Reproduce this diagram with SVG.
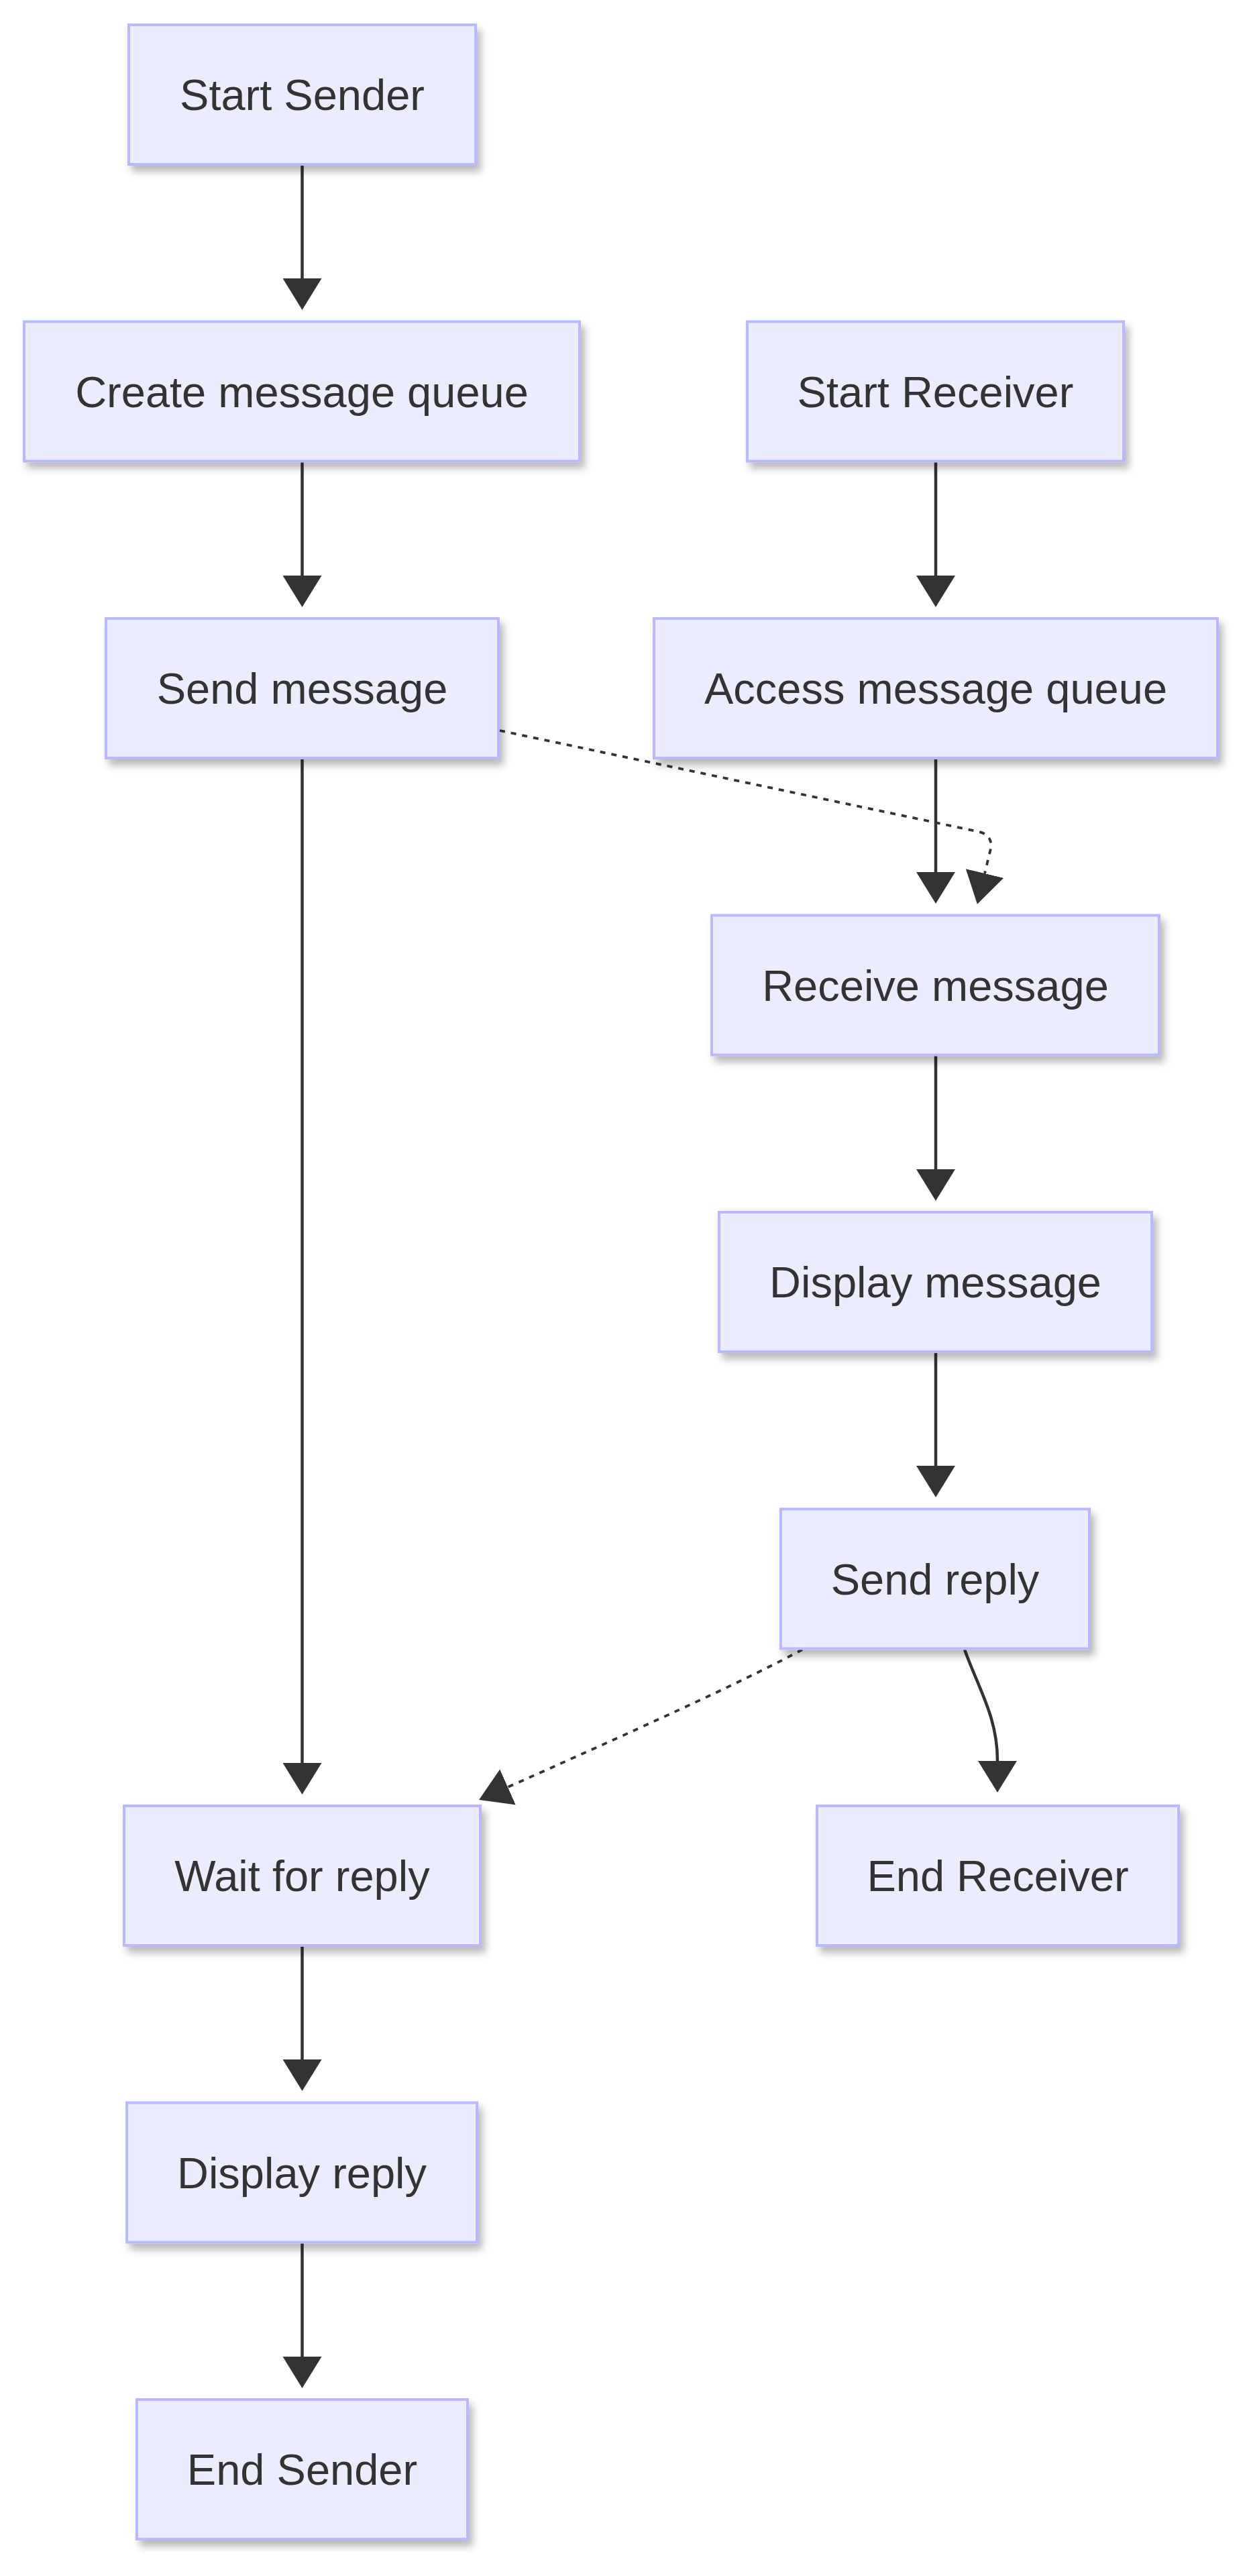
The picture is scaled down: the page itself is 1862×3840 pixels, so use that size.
<svg xmlns="http://www.w3.org/2000/svg" width="1862" height="3840" viewBox="0 0 1862 3840">
<style>
.node rect{fill:#ECECFF;stroke:#B9B9FF;stroke-width:4;filter:url(#shadow)}
.node text{font-family:"Liberation Sans",Arial,Helvetica,sans-serif;font-size:65px;fill:#333333;text-anchor:middle}
.edge{fill:none;stroke:#333333;stroke-width:4.5}
.dotted{stroke-width:3.8;stroke-dasharray:8 9}
</style>
<defs>
<filter id="shadow" x="-10%" y="-10%" width="130%" height="140%">
<feDropShadow dx="6" dy="9" stdDeviation="6" flood-color="#000000" flood-opacity="0.28"/>
</filter>
<marker id="arrow" markerUnits="userSpaceOnUse" markerWidth="48" markerHeight="58" viewBox="0 0 48 58" refX="0" refY="29" orient="auto">
<path d="M0,0 L47,29 L0,58 z" fill="#333333"/>
</marker>
</defs>
<rect width="1862" height="3840" fill="#FFFFFF"/>
<g id="connectors">
<path class="edge" d="M450.5,247 L450.5,415" marker-end="url(#arrow)"/>
<path class="edge" d="M450.5,689 L450.5,858" marker-end="url(#arrow)"/>
<path class="edge" d="M450.5,1132 L450.5,2628" marker-end="url(#arrow)"/>
<path class="edge" d="M450.5,2902 L450.5,3070" marker-end="url(#arrow)"/>
<path class="edge" d="M450.5,3344 L450.5,3513" marker-end="url(#arrow)"/>
<path class="edge" d="M1395,689 L1395,858" marker-end="url(#arrow)"/>
<path class="edge" d="M1395,1132 L1395,1300" marker-end="url(#arrow)"/>
<path class="edge" d="M1395,1574 L1395,1743" marker-end="url(#arrow)"/>
<path class="edge" d="M1395,2017 L1395,2185" marker-end="url(#arrow)"/>
<path class="edge" d="M1438,2459 C1460,2520 1487,2560 1487,2625" marker-end="url(#arrow)"/>
<path class="edge dotted" d="M745,1089 L1460,1240 Q1480,1245 1477,1265 L1468,1302" marker-end="url(#arrow)"/>
<path class="edge dotted" d="M1196,2459 C1120,2500 1000,2556 757,2664" marker-end="url(#arrow)"/>
</g>
<g id="start-sender" class="node"><rect x="192" y="37" width="517" height="208"/><text x="450.5" y="164">Start Sender</text></g>
<g id="create-message-queue" class="node"><rect x="36" y="479.5" width="828" height="208"/><text x="450" y="606.5">Create message queue</text></g>
<g id="send-message" class="node"><rect x="158" y="922" width="585" height="208"/><text x="450.5" y="1049">Send message</text></g>
<g id="wait-for-reply" class="node"><rect x="185" y="2692" width="531" height="208"/><text x="450.5" y="2819">Wait for reply</text></g>
<g id="display-reply" class="node"><rect x="189" y="3134.5" width="522" height="208"/><text x="450" y="3261.5">Display reply</text></g>
<g id="end-sender" class="node"><rect x="204" y="3577" width="493" height="208"/><text x="450.5" y="3704">End Sender</text></g>
<g id="start-receiver" class="node"><rect x="1114" y="479.5" width="561" height="208"/><text x="1394.5" y="606.5">Start Receiver</text></g>
<g id="access-message-queue" class="node"><rect x="975" y="922" width="840" height="208"/><text x="1395" y="1049">Access message queue</text></g>
<g id="receive-message" class="node"><rect x="1061" y="1364.5" width="667" height="208"/><text x="1394.5" y="1491.5">Receive message</text></g>
<g id="display-message" class="node"><rect x="1072" y="1807" width="645" height="208"/><text x="1394.5" y="1934">Display message</text></g>
<g id="send-reply" class="node"><rect x="1164" y="2249.5" width="460" height="208"/><text x="1394" y="2376.5">Send reply</text></g>
<g id="end-receiver" class="node"><rect x="1218" y="2692" width="539" height="208"/><text x="1487.5" y="2819">End Receiver</text></g>
</svg>
